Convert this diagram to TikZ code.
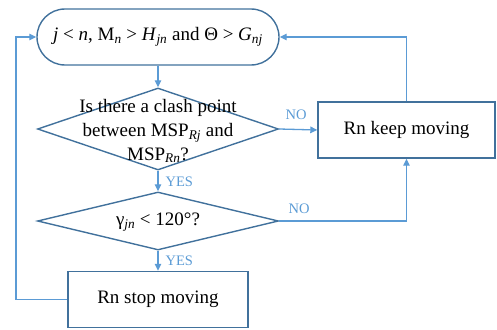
\documentclass[tikz,border=0pt]{standalone}
\usepackage{fontspec}
\setmainfont{Liberation Serif}
\usetikzlibrary{shapes.geometric,arrows.meta}
\definecolor{shapeblue}{HTML}{41719C}
\definecolor{linkblue}{HTML}{5B9BD5}
\tikzset{
  x=1pt, y=-1pt,
  base/.style={draw=shapeblue, line width=1.4pt, inner sep=0pt,
    font=\fontsize{19}{24}\selectfont, text=black},
  terminal/.style={base, rectangle, rounded corners=28pt,
    minimum width=242pt, minimum height=56pt},
  process/.style={base, rectangle, minimum height=56pt},
  decision/.style={base, diamond, minimum width=241pt},
  dtext/.style={align=center, inner sep=0pt,
    font=\fontsize{19}{24}\selectfont},
  link/.style={draw=linkblue, line width=1.3pt,
    -{Triangle[length=7pt,width=6.5pt]}},
  plain/.style={draw=linkblue, line width=1.3pt},
  tag/.style={text=linkblue, inner sep=0pt, font=\fontsize{14.5}{16}\selectfont}
}
\begin{document}
\begin{tikzpicture}
\useasboundingbox (0,0) rectangle (497,329);

% start / loop condition
\node[terminal] (term) at (158,37)
  {\textit{j} < \textit{n}, M\textsubscript{\textit{n}} > \textit{H}\textsubscript{\textit{jn}} and Θ > \textit{G}\textsubscript{\textit{nj}}};

% first decision: clash point
\node[decision, minimum height=82pt] (d1) at (158,129) {};
\node[dtext] (d1t) at (158,131)
  {Is there a clash point\\between MSP\textsubscript{\textit{Rj}} and\\MSP\textsubscript{\textit{Rn}}?};

% second decision: angle
\node[decision, minimum height=58pt] (d2) at (158,221) {};
\node[dtext] (d2t) at (158,222) {γ\textsubscript{\textit{jn}} < 120°?};

% outcomes
\node[process, minimum width=180pt] (stop) at (158,299.5) {Rn stop moving};
\node[process, minimum width=177pt] (keep) at (406.5,130) {Rn keep moving};

% connectors
\draw[link] (term.south) -- (d1.north);
\draw[link] (d1.south) -- node[tag, right=7pt, pos=0.55] (yes1) {YES} (d2.north);
\draw[link] (d2.south) -- node[tag, right=7pt, pos=0.5] (yes2) {YES} (stop.north);
\draw[link] (d1.east) -- (keep.west);
\node[tag] (no1) at (296,115) {NO};
\draw[link] (d2.east) -| (keep.south);
\node[tag] (no2) at (299,209) {NO};
\draw[link] (keep.north) |- (term.east);
\coordinate (back) at (16,299.5);
\draw[plain] (stop.west) -- (back);
\draw[link] (back) |- (term.west);
\end{tikzpicture}
\end{document}
